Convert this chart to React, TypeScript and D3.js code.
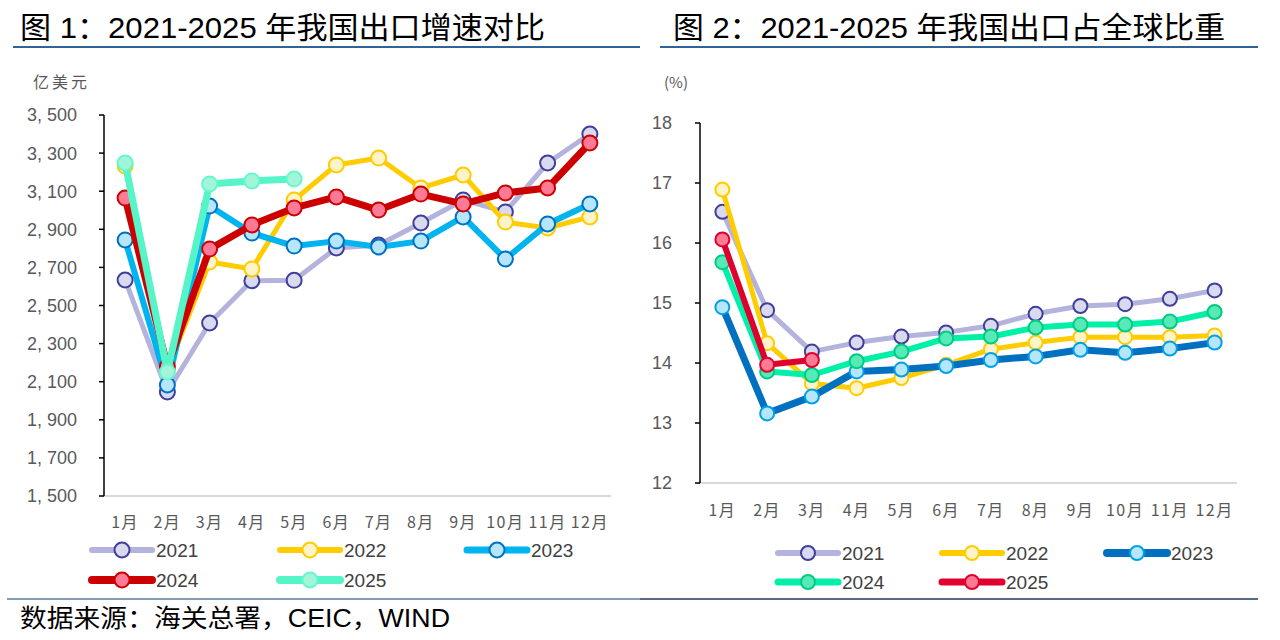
import * as d3 from "d3";

const months = ["1月", "2月", "3月", "4月", "5月", "6月", "7月", "8月", "9月", "10月", "11月", "12月"];
const years = ["2021", "2022", "2023", "2024", "2025"];

// 图1：出口金额（亿美元）
const exp2021 = [2634, 2046, 2408, 2630, 2632, 2802, 2818, 2933, 3054, 2991, 3248, 3400];
const exp2022 = [3232, 2160, 2728, 2692, 3054, 3238, 3274, 3117, 3185, 2938, 2907, 2965];
const exp2023 = [2844, 2083, 3022, 2880, 2812, 2838, 2807, 2838, 2965, 2744, 2928, 3033];
const exp2024 = [3064, 2180, 2796, 2923, 3012, 3070, 3001, 3085, 3033, 3091, 3117, 3353];
const exp2025 = [3248, 2151, 3138, 3154, 3164];
const leftTicks = [1500, 1700, 1900, 2100, 2300, 2500, 2700, 2900, 3100, 3300, 3500];

// 图2：出口占全球比重（%）
const share2021 = [16.52, 14.88, 14.19, 14.34, 14.44, 14.51, 14.62, 14.82, 14.95, 14.98, 15.07, 15.21];
const share2022 = [16.89, 14.33, 13.66, 13.58, 13.75, 13.97, 14.23, 14.34, 14.43, 14.43, 14.43, 14.46];
const share2023 = [14.93, 13.16, 13.44, 13.86, 13.89, 13.95, 14.05, 14.11, 14.22, 14.17, 14.24, 14.34];
const share2024 = [15.68, 13.86, 13.80, 14.03, 14.19, 14.41, 14.44, 14.59, 14.64, 14.64, 14.69, 14.85];
const share2025 = [16.06, 13.97, 14.05];
const rightTicks = [12, 13, 14, 15, 16, 17, 18];

type Style = { line: string; fill: string; stroke: string; width: number };

const leftStyles: Style[] = [
  { line: "#B3B3DD", fill: "#D9D9F0", stroke: "#3F3F99", width: 5 },
  { line: "#FFCC00", fill: "#FFF3C8", stroke: "#FFCC00", width: 5 },
  { line: "#00B4F0", fill: "#B5E6FB", stroke: "#0070C0", width: 6 },
  { line: "#CC0000", fill: "#FF7A95", stroke: "#CC0000", width: 7 },
  { line: "#55F5C8", fill: "#A3F5DA", stroke: "#66F7CF", width: 7 },
];
const rightStyles: Style[] = [
  { line: "#B3B3DD", fill: "#D9D9F0", stroke: "#3F3F99", width: 5 },
  { line: "#FFCC00", fill: "#FFF3C8", stroke: "#FFCC00", width: 5 },
  { line: "#0070C0", fill: "#B5E6FB", stroke: "#00A0E8", width: 7 },
  { line: "#00F0A8", fill: "#55EAB8", stroke: "#00CC80", width: 6 },
  { line: "#E0002E", fill: "#FF7A95", stroke: "#E0002E", width: 6 },
];

const FONT = "'Liberation Sans', Arial, 'Noto Sans CJK SC', sans-serif";
const CJK = "'Noto Sans CJK SC', sans-serif";

type PanelProps = {
  series: number[][];
  styles: Style[];
  ticks: number[];
  domain: [number, number];
  x0: number;
  x1: number;
  yTop: number;
  yBottom: number;
  tickFmt: (v: number) => string;
  labelX: number;
  xLabelY: number;
  r: number;
  legend: { x: number; y: number }[];
};

function Panel(p: PanelProps) {
  const x = d3.scaleBand<string>().domain(months).range([p.x0, p.x1]);
  const y = d3.scaleLinear().domain(p.domain).range([p.yBottom, p.yTop]);
  const cx = (i: number) => (x(months[i]) ?? 0) + x.bandwidth() / 2;
  const line = d3
    .line<number>()
    .x((_, i) => cx(i))
    .y((d) => y(d));
  return (
    <g>
      {/* x axis */}
      <line x1={p.x0 - 2} x2={p.x1} y1={p.yBottom} y2={p.yBottom} stroke="#D9D9D9" strokeWidth={2} />
      {/* y axis */}
      <line x1={p.x0} x2={p.x0} y1={p.yTop} y2={p.yBottom} stroke="#000" strokeWidth={1.5} />
      {p.ticks.map((t) => (
        <g key={t}>
          <line x1={p.x0 - 5} x2={p.x0} y1={y(t)} y2={y(t)} stroke="#000" strokeWidth={1.5} />
          <text x={p.labelX} y={y(t)} dy="0.36em" textAnchor="end" fontSize={18} fill="#595959" fontFamily={FONT}>
            {p.tickFmt(t)}
          </text>
        </g>
      ))}
      {months.map((m, i) => (
        <text key={m} x={cx(i)} y={p.xLabelY} textAnchor="middle" fontSize={16} fill="#595959" letterSpacing={1.5}
          fontFamily={CJK}>
          {m}
        </text>
      ))}
      {p.series.map((s, k) => (
        <g key={k}>
          <path d={line(s) ?? ""} fill="none" stroke={p.styles[k].line} strokeWidth={p.styles[k].width}
            strokeLinejoin="round" strokeLinecap="round" />
          {s.map((v, i) => (
            <circle key={i} cx={cx(i)} cy={y(v)} r={p.r} fill={p.styles[k].fill} stroke={p.styles[k].stroke} strokeWidth={2} />
          ))}
        </g>
      ))}
      {years.map((yr, k) => {
        const L = p.legend[k];
        return (
          <g key={yr}>
            <line x1={L.x} x2={L.x + 60} y1={L.y} y2={L.y} stroke={p.styles[k].line} strokeWidth={p.styles[k].width + 1}
              strokeLinecap="round" />
            <circle cx={L.x + 30} cy={L.y} r={p.r} fill={p.styles[k].fill} stroke={p.styles[k].stroke} strokeWidth={2} />
            <text x={L.x + 64} y={L.y} dy="0.36em" fontSize={19} fill="#404040" fontFamily={FONT}>
              {yr}
            </text>
          </g>
        );
      })}
    </g>
  );
}

export default function App() {
  const fmtLeft = (v: number) => d3.format(",")(v).replace(",", ", ");
  return (
    <svg width={1280} height={640} style={{ position: "absolute", left: 0, top: 0, background: "#fff" }}>
      <rect width={1280} height={640} fill="#fff" />
      <text x={20} y={38} fontSize={30} fill="#000" fontFamily={FONT} textLength={525} lengthAdjust="spacingAndGlyphs">
        图 1：2021-2025 年我国出口增速对比
      </text>
      <text x={673} y={38} fontSize={30} fill="#000" fontFamily={FONT} textLength={552} lengthAdjust="spacingAndGlyphs">
        图 2：2021-2025 年我国出口占全球比重
      </text>
      <line x1={13} x2={640} y1={47} y2={47} stroke="#2E6496" strokeWidth={2} />
      <line x1={660} x2={1258} y1={47} y2={47} stroke="#2E6496" strokeWidth={2} />
      <text x={33} y={88} fontSize={16} fill="#595959" letterSpacing={3} fontFamily={CJK}>亿美元</text>
      <text x={664} y={88} fontSize={15} fill="#595959" fontFamily={CJK}>(%)</text>

      <Panel
        series={[exp2021, exp2022, exp2023, exp2024, exp2025]}
        styles={leftStyles}
        ticks={leftTicks}
        domain={[1500, 3500]}
        x0={104}
        x1={611}
        yTop={115}
        yBottom={496}
        tickFmt={fmtLeft}
        labelX={77}
        xLabelY={528}
        r={7.5}
        legend={[
          { x: 92, y: 550 },
          { x: 280, y: 550 },
          { x: 467, y: 550 },
          { x: 92, y: 580 },
          { x: 280, y: 580 },
        ]}
      />
      <Panel
        series={[share2021, share2022, share2023, share2024, share2025]}
        styles={rightStyles}
        ticks={rightTicks}
        domain={[12, 18]}
        x0={700}
        x1={1237}
        yTop={123}
        yBottom={483}
        tickFmt={(v) => String(v)}
        labelX={672}
        xLabelY={516}
        r={7}
        legend={[
          { x: 778, y: 553 },
          { x: 942, y: 553 },
          { x: 1107, y: 553 },
          { x: 778, y: 582 },
          { x: 942, y: 582 },
        ]}
      />

      <line x1={7} x2={640} y1={599} y2={599} stroke="#5A7A9A" strokeWidth={1.5} />
      <line x1={640} x2={1258} y1={599} y2={599} stroke="#1F3864" strokeWidth={1.5} />
      <text x={20} y={627} fontSize={25} fill="#000" fontFamily={FONT} textLength={430} lengthAdjust="spacingAndGlyphs">
        数据来源：海关总署，CEIC，WIND
      </text>
    </svg>
  );
}
